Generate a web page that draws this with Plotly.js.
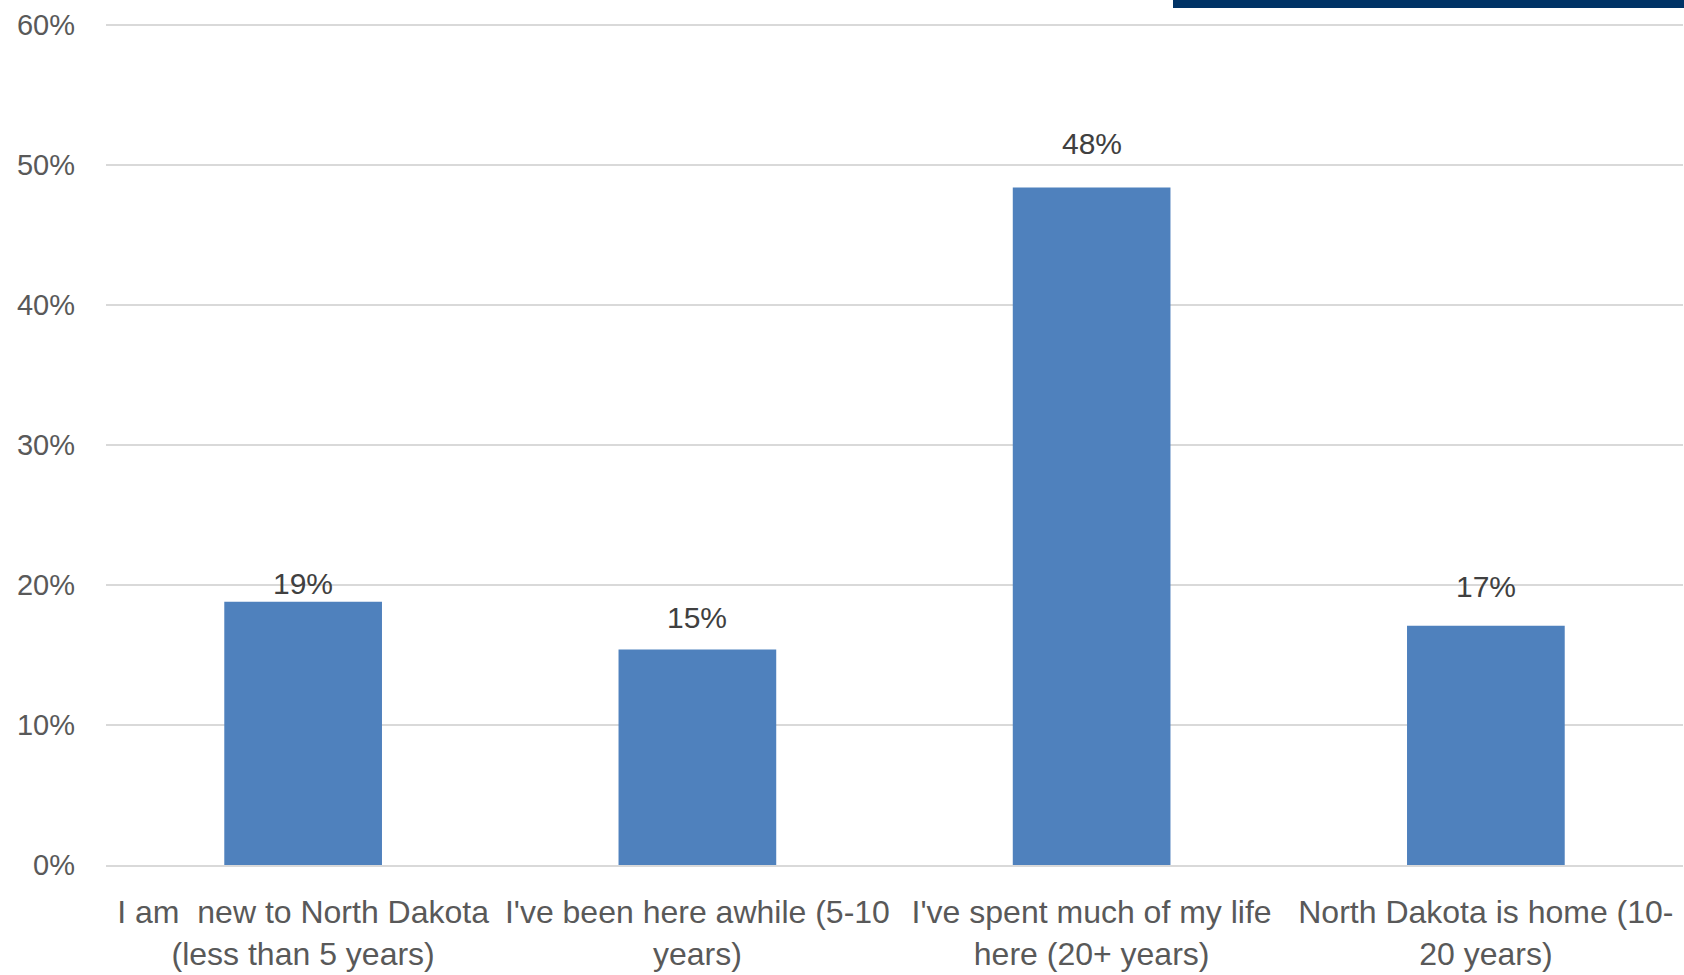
<!DOCTYPE html>
<html>
<head>
<meta charset="utf-8">
<script src="https://cdn.plot.ly/plotly-3.0.1.min.js"></script>
<style>html,body{margin:0;padding:0;background:#fff;}#chart{width:1684px;height:975px;}</style>
</head>
<body>
<div id="chart"></div>
<script>
const categories = [
  "I am  new to North Dakota<br>(less than 5 years)",
  "I've been here awhile (5-10<br>years)",
  "I've spent much of my life<br>here (20+ years)",
  "North Dakota is home (10-<br>20 years)"
];
const shares = [0.188, 0.154, 0.484, 0.171];
const yTickValues = [0, 0.1, 0.2, 0.3, 0.4, 0.5, 0.6];
const yTickLabels = ["0%", "10%", "20%", "30%", "40%", "50%", "60%"];
// vertical offset (px) of each data label above its bar top
const labelOffsets = [18, 32, 44, 39];

const FONT = "Liberation Sans, Arial, sans-serif";

const trace = {
  type: "bar",
  x: categories,
  y: shares,
  marker: {color: "#4F81BD"},
  hoverinfo: "none"
};

const W = 1684, H = 975;
const L = 106, R = 1, T = 21, B = 110;
const plotH = H - T - B;

const annotations = categories.map((c, i) => ({
  x: c, y: shares[i], xref: "x", yref: "y",
  text: Math.round(shares[i] * 100) + "%",
  showarrow: false,
  yanchor: "middle",
  yshift: labelOffsets[i],
  font: {family: FONT, size: 30, color: "#404040"}
}));

const layout = {
  width: W, height: H,
  margin: {l: L, r: R, t: T, b: B, pad: 0},
  paper_bgcolor: "#ffffff",
  plot_bgcolor: "#ffffff",
  bargap: 0.6,
  showlegend: false,
  font: {family: FONT, color: "#595959"},
  xaxis: {
    type: "category",
    showgrid: false,
    showline: true,
    linecolor: "#d9d9d9",
    linewidth: 2,
    ticks: "",
    ticklabelstandoff: 18,
    tickfont: {family: FONT, size: 32, color: "#595959"},
    zeroline: false
  },
  yaxis: {
    range: [0, 0.603],
    tickvals: yTickValues,
    ticktext: yTickLabels,
    showgrid: true,
    gridcolor: "#d9d9d9",
    gridwidth: 2,
    zeroline: false,
    showline: false,
    ticks: "",
    ticklabelstandoff: 30,
    tickfont: {family: FONT, size: 29, color: "#595959"}
  },
  annotations: annotations,
  shapes: [{
    type: "rect",
    xref: "paper", yref: "paper",
    x0: (1173 - L) / (W - L - R), x1: 1.01,
    y0: (H - B - 8) / plotH, y1: (H - B + 2) / plotH,
    fillcolor: "#003366",
    line: {width: 0}
  }]
};

Plotly.newPlot("chart", [trace], layout, {displayModeBar: false, staticPlot: true});
</script>
</body>
</html>
